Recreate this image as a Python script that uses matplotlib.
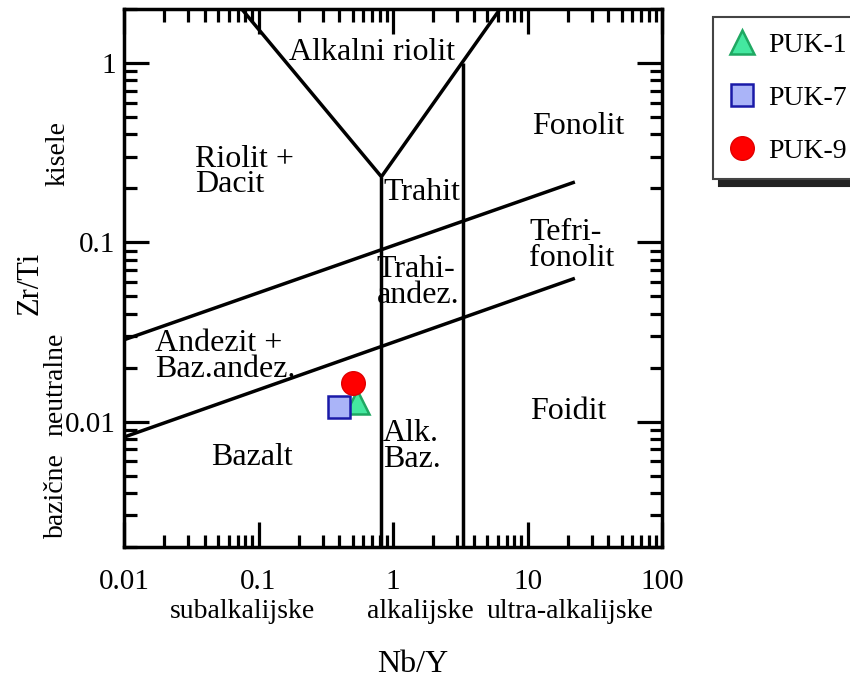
import matplotlib
matplotlib.use("Agg")
import matplotlib.pyplot as plt
from matplotlib.ticker import LogLocator, NullFormatter, FixedLocator, FixedFormatter

plt.rcParams['font.family'] = ['Liberation Serif', 'DejaVu Serif']

# samples (Nb/Y, Zr/Ti)
samples = ["PUK-1", "PUK-7", "PUK-9"]
nb_y = [0.54, 0.40, 0.505]
zr_ti = [0.0129, 0.0121, 0.0165]

# field boundaries (Pearce 1996)
upper_x = [0.01, 22.5]
upper_y = [0.0286, 0.217]
lower_x = [0.01, 22.5]
lower_y = [0.0082, 0.063]
v1_x = [0.82, 0.82]
v1_y = [0.002, 0.232]
v2_x = [3.3, 3.3]
v2_y = [0.002, 1.0]
vee_x = [0.075, 0.82, 6.25]
vee_y = [2.0, 0.232, 2.0]

# field names
fields = ["Alkalni riolit", "Riolit +\nDacit", "Trahit", "Fonolit", "Tefri-\nfonolit",
          "Trahi-\nandez.", "Andezit +\nBaz.andez.", "Foidit", "Alk.\nBaz.", "Bazalt"]
field_x = [0.70, 0.079, 1.64, 23.7, 21.4, 1.53, 0.0564, 20.0, 1.38, 0.0896]
field_y = [1.15, 0.247, 0.189, 0.44, 0.0957, 0.0595, 0.0230, 0.01137, 0.00726, 0.0063]

xticks = [0.01, 0.1, 1, 10, 100]
xticklabels = ["0.01", "0.1", "1", "10", "100"]
yticks = [0.01, 0.1, 1]
yticklabels = ["0.01", "0.1", "1"]

fig = plt.figure(figsize=(8.5, 6.84), dpi=100)
ax = fig.add_axes([124/850, 1-547/684, 538/850, 538/684])
ax.set_xscale('log')
ax.set_yscale('log')
ax.set_xlim(0.01, 100)
ax.set_ylim(0.002, 2)

lw = 2.5
for xs, ys in [(upper_x, upper_y), (lower_x, lower_y), (v1_x, v1_y), (v2_x, v2_y), (vee_x, vee_y)]:
    ax.plot(xs, ys, color='black', lw=lw, solid_capstyle='butt', zorder=2)

for t, x, y in zip(fields, field_x, field_y):
    ax.text(x, y, t, ha='center', va='center', multialignment='left', fontsize=23, linespacing=0.85)

ax.plot(nb_y[0], zr_ti[0], ls='none', marker='^', ms=17, mfc='#44e8a0', mec='#1fa862', mew=1.8,
        label=samples[0], zorder=3)
ax.plot(nb_y[1], zr_ti[1], ls='none', marker='s', ms=16, mfc='#aab4f8', mec='#1a1aa8', mew=1.8,
        label=samples[1], zorder=4)
ax.plot(nb_y[2], zr_ti[2], ls='none', marker='o', ms=17, mfc='#ff0000', mec='#e00000', mew=1,
        label=samples[2], zorder=5)

for s in ax.spines.values():
    s.set_linewidth(2.5)

ax.xaxis.set_major_locator(FixedLocator(xticks))
ax.xaxis.set_major_formatter(FixedFormatter(xticklabels))
ax.yaxis.set_major_locator(FixedLocator(yticks))
ax.yaxis.set_major_formatter(FixedFormatter(yticklabels))
ax.xaxis.set_minor_locator(LogLocator(base=10, subs=range(2, 10)))
ax.yaxis.set_minor_locator(LogLocator(base=10, subs=range(2, 10)))
ax.xaxis.set_minor_formatter(NullFormatter())
ax.yaxis.set_minor_formatter(NullFormatter())
ax.tick_params(which='both', direction='in', top=True, right=True, width=2.3, labelsize=21)
ax.tick_params(which='major', length=18)
ax.tick_params(which='minor', length=9)
ax.tick_params(axis='x', pad=16)
ax.tick_params(axis='y', pad=6)

fig.text(30/850, 1-283/684, "Zr/Ti", rotation=90, ha='center', va='center', fontsize=22)
fig.text(58/850, 1-154/684, "kisele", rotation=90, ha='center', va='center', fontsize=20)
fig.text(56/850, 1-384/684, "neutralne", rotation=90, ha='center', va='center', fontsize=20)
fig.text(56/850, 1-496/684, "bazične", rotation=90, ha='center', va='center', fontsize=20)
fig.text(242/850, 1-612/684, "subalkalijske", ha='center', va='center', fontsize=20)
fig.text(420/850, 1-612/684, "alkalijske", ha='center', va='center', fontsize=20)
fig.text(570/850, 1-612/684, "ultra-alkalijske", ha='center', va='center', fontsize=20)
fig.text(413/850, 1-665/684, "Nb/Y", ha='center', va='center', fontsize=23)

leg = ax.legend(loc='upper left', bbox_to_anchor=(713/850, 1-17/684), bbox_transform=fig.transFigure,
                fontsize=20, frameon=True, fancybox=False, edgecolor='#444444', framealpha=1,
                shadow={'ox': 4, 'oy': -5, 'color': '#222222', 'alpha': 1}, borderaxespad=0,
                labelspacing=1.0, handlelength=1.0, handletextpad=0.45, borderpad=0.55, markerscale=1.0)
leg.get_frame().set_linewidth(1.5)

fig.savefig("out.png", dpi=100)
